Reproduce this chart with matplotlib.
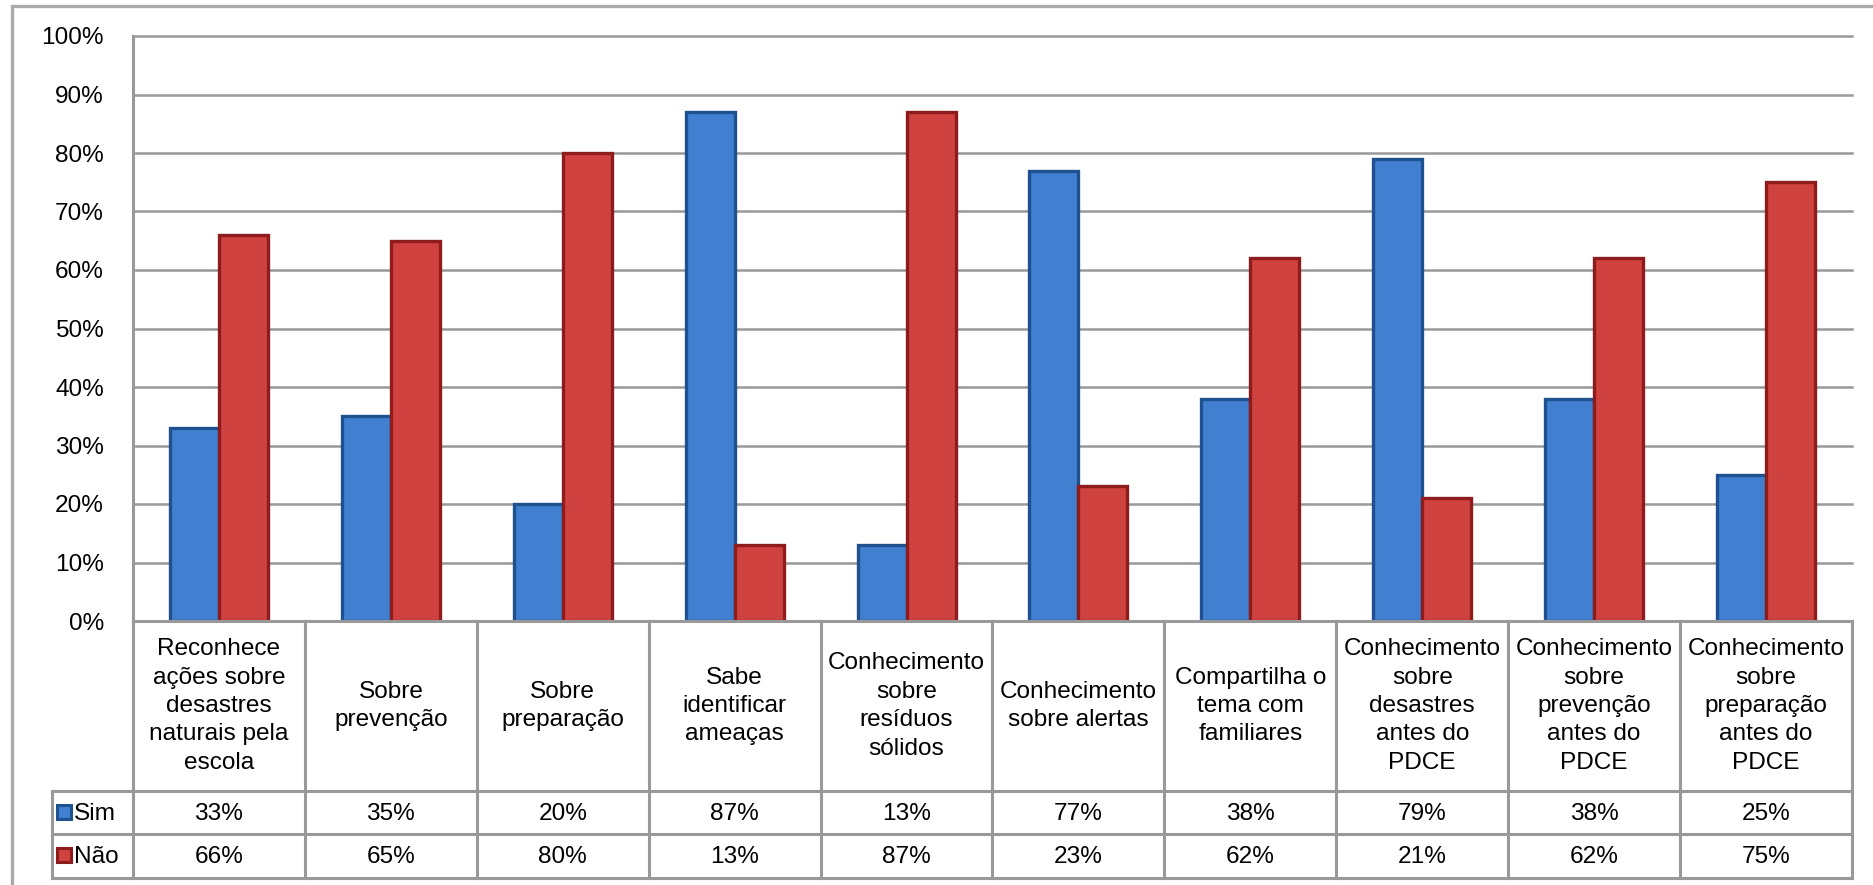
import matplotlib
matplotlib.use("Agg")
import matplotlib.pyplot as plt
import numpy as np
from matplotlib.patches import Rectangle

plt.rcParams['font.family'] = ['Liberation Sans', 'DejaVu Sans']

# data
categories = [
    "Reconhece\nações sobre\ndesastres\nnaturais pela\nescola",
    "Sobre\nprevenção",
    "Sobre\npreparação",
    "Sabe\nidentificar\nameaças",
    "Conhecimento\nsobre\nresíduos\nsólidos",
    "Conhecimento\nsobre alertas",
    "Compartilha o\ntema com\nfamiliares",
    "Conhecimento\nsobre\ndesastres\nantes do\nPDCE",
    "Conhecimento\nsobre\nprevenção\nantes do\nPDCE",
    "Conhecimento\nsobre\npreparação\nantes do\nPDCE",
]
sim = [33, 35, 20, 87, 13, 77, 38, 79, 38, 25]
nao = [66, 65, 80, 13, 87, 23, 62, 21, 62, 75]
series_names = ["Sim", "Não"]

blue, blue_edge = "#4180d0", "#1f5190"
red, red_edge = "#d04240", "#8e1c1c"
grid_c = "#999999"
fs = 17.6

W, H = 1874, 885
fig = plt.figure(figsize=(W / 100, H / 100), dpi=100)

# pixel layout
px_left, px_right = 133, 1852
px_top, px_zero = 36, 621
px_leg = 52
rows_px = [621, 791, 834, 878]

ax = fig.add_axes([px_left / W, 1 - px_zero / H,
                   (px_right - px_left) / W, (px_zero - px_top) / H])
n = len(categories)
x = np.arange(n) + 0.5
bw = 0.285
ax.bar(x - bw / 2, np.array(sim) / 100, bw, color=blue, edgecolor=blue_edge,
       linewidth=2.4, zorder=3)
ax.bar(x + bw / 2, np.array(nao) / 100, bw, color=red, edgecolor=red_edge,
       linewidth=2.4, zorder=3)
ax.set_xlim(0, n)
ax.set_ylim(0, 1)
ticks = np.arange(0, 1.01, 0.1)
ax.set_yticks(ticks)
ax.set_yticklabels([f"{int(round(v * 100))}%" for v in ticks], fontsize=fs)
ax.tick_params(axis='y', length=0, pad=21)
ax.set_xticks([])
for t in ticks[1:]:
    ax.axhline(t, color=grid_c, linewidth=1.8, zorder=0, clip_on=False)
for s in ['top', 'right', 'bottom']:
    ax.spines[s].set_visible(False)
ax.spines['left'].set_color(grid_c)
ax.spines['left'].set_linewidth(2.2)

# data table below the plot
col_px = (px_right - px_left) / n
leg_w = (px_left - px_leg) / col_px
tax = fig.add_axes([px_leg / W, 1 - rows_px[-1] / H,
                    (px_right - px_leg) / W, (rows_px[-1] - rows_px[0]) / H])
tax.set_xlim(-leg_w, n)
tax.set_ylim(rows_px[-1], rows_px[0])
tax.axis('off')
lw = 2.2
# horizontal lines
tax.plot([0, n], [rows_px[0]] * 2, color=grid_c, lw=lw, clip_on=False)
for r in rows_px[1:]:
    tax.plot([-leg_w, n], [r, r], color=grid_c, lw=lw, clip_on=False,
             solid_capstyle='projecting')
# vertical lines
for i in range(n + 1):
    tax.plot([i, i], [rows_px[0], rows_px[-1]], color=grid_c, lw=lw,
             clip_on=False, solid_capstyle='projecting')
tax.plot([-leg_w, -leg_w], [rows_px[1], rows_px[-1]], color=grid_c, lw=lw,
         clip_on=False, solid_capstyle='projecting')

for i, c in enumerate(categories):
    tax.text(i + 0.5, (rows_px[0] + rows_px[1]) / 2, c, ha='center',
             va='center', fontsize=fs, linespacing=1.38)
    tax.text(i + 0.5, (rows_px[1] + rows_px[2]) / 2 + 1, f"{sim[i]}%",
             ha='center', va='center', fontsize=fs)
    tax.text(i + 0.5, (rows_px[2] + rows_px[3]) / 2 + 1, f"{nao[i]}%",
             ha='center', va='center', fontsize=fs)

for k, (name, fc, ec) in enumerate(zip(series_names, [blue, red],
                                       [blue_edge, red_edge])):
    yc = (rows_px[k + 1] + rows_px[k + 2]) / 2
    tax.plot([-leg_w + 0.07], [yc - 1], marker='s', markersize=10,
             markerfacecolor=fc, markeredgecolor=ec, markeredgewidth=2.2,
             clip_on=False)
    tax.text(-leg_w + 0.13, yc + 1, name, ha='left', va='center', fontsize=fs)

# outer chart border (partially visible)
fig.add_artist(Rectangle((12 / W, -0.5), 2, 1.5 - 6 / H,
                         transform=fig.transFigure, fill=False,
                         edgecolor="#aaaaaa", linewidth=2.4))

fig.savefig("out.png", dpi=100)
